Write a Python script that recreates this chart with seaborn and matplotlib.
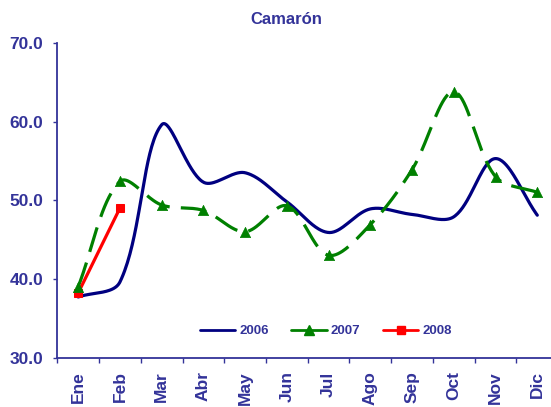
import numpy as np
import pandas as pd
import matplotlib
matplotlib.use("Agg")
import matplotlib.pyplot as plt
from matplotlib.lines import Line2D
import seaborn as sns

months = ["Ene", "Feb", "Mar", "Abr", "May", "Jun", "Jul", "Ago", "Sep", "Oct", "Nov", "Dic"]
v2006 = [37.7, 39.6, 59.6, 52.3, 53.5, 49.8, 45.9, 48.9, 48.2, 47.9, 55.3, 48.1]
v2007 = [39.0, 52.4, 49.4, 48.7, 46.0, 49.3, 43.0, 46.9, 53.9, 63.8, 53.0, 51.0]
v2008 = [38.2, 49.0]

TXT = "#333399"


def smooth_xy(xs, ys, sx=41.75, sy=7.86, n=40):
    # Excel style smoothed line: Bezier through the points, control arms
    # weighted by segment length (measured in pixels)
    pts = np.column_stack([np.asarray(xs) * sx, np.asarray(ys) * sy]).astype(float)
    p = np.vstack([pts[0], pts, pts[-1]])
    out = []
    t = np.linspace(0, 1, n)[:, None]
    for i in range(1, len(p) - 2):
        p0, p1, p2, p3 = p[i - 1], p[i], p[i + 1], p[i + 2]
        d01 = np.hypot(*(p1 - p0))
        d12 = np.hypot(*(p2 - p1))
        d23 = np.hypot(*(p3 - p2))
        w1 = d12 / (d01 + d12) if d01 + d12 > 0 else 0.5
        w2 = d12 / (d12 + d23) if d12 + d23 > 0 else 0.5
        c1 = p1 + (p2 - p0) * w1 / 3
        c2 = p2 - (p3 - p1) * w2 / 3
        seg = (1 - t) ** 3 * p1 + 3 * (1 - t) ** 2 * t * c1 + 3 * (1 - t) * t ** 2 * c2 + t ** 3 * p2
        out.append(seg if i == 1 else seg[1:])
    out = np.vstack(out)
    return out[:, 0] / sx, out[:, 1] / sy


sns.set_theme(style="white")
plt.rcParams["font.family"] = ["Liberation Sans", "DejaVu Sans"]
plt.rcParams["font.weight"] = "bold"

fig = plt.figure(figsize=(5.51, 4.07), dpi=100)
ax = fig.add_axes([0.104, 0.1216, 0.909, 0.7727])

x = np.arange(len(months))

x06, y06 = smooth_xy(x, v2006)
x07, y07 = smooth_xy(x, v2007)

sns.lineplot(x=x06, y=y06, sort=False, estimator=None, ax=ax,
             color="#000080", linewidth=2.3)
sns.lineplot(x=x07, y=y07, sort=False, estimator=None, ax=ax,
             color="#008000", linewidth=2.3)
ax.lines[-1].set_dashes((8, 3.5))
sns.scatterplot(x=x, y=v2007, ax=ax, marker="^", s=55, color="#008000",
                edgecolor="#008000", linewidth=0.5, zorder=4)
sns.lineplot(x=x[:len(v2008)], y=v2008, ax=ax, color="#FF0000", linewidth=2.3,
             marker="s", markersize=6, markeredgecolor="#FF0000")

ax.set_xlim(-0.5, 11.5)
ax.set_ylim(30, 70)
ax.set_yticks([30, 40, 50, 60, 70])
ax.set_yticklabels([f"{v:.1f}" for v in [30, 40, 50, 60, 70]])
ax.set_xticks(x)
ax.set_xticklabels(months, rotation=90)
ax.set_xticks(np.arange(-0.5, 12, 1), minor=True)
ax.tick_params(axis="x", which="major", length=0, pad=10, labelsize=12.5, labelcolor=TXT)
ax.tick_params(axis="x", which="minor", length=3.5, width=1, color=TXT, direction="out", bottom=True)
ax.tick_params(axis="y", length=3, width=1, color=TXT, direction="out", left=True,
               pad=7, labelsize=12.5, labelcolor=TXT)
for lab in ax.get_xticklabels() + ax.get_yticklabels():
    lab.set_fontweight("bold")

for side in ["top", "right"]:
    ax.spines[side].set_visible(False)
for side in ["left", "bottom"]:
    ax.spines[side].set_color(TXT)
    ax.spines[side].set_linewidth(1.3)
ax.set_xlabel("")
ax.set_ylabel("")
ax.grid(False)

handles = [
    Line2D([], [], color="#000080", linewidth=2),
    Line2D([], [], color="#008000", linewidth=2, marker="^", markersize=7),
    Line2D([], [], color="#FF0000", linewidth=2, marker="s", markersize=6),
]
leg = ax.legend(handles, ["2006", "2007", "2008"], ncol=3, frameon=False,
                loc="center", bbox_to_anchor=(0.536, 0.084),
                handlelength=2.7, handletextpad=0.3, columnspacing=1.7,
                prop={"size": 9.5, "weight": "bold"})
for t in leg.get_texts():
    t.set_color(TXT)

fig.text(0.519, 0.951, "Camarón", ha="center", va="center", fontsize=12,
         fontweight="bold", color=TXT)

fig.savefig("out.png", dpi=100)
